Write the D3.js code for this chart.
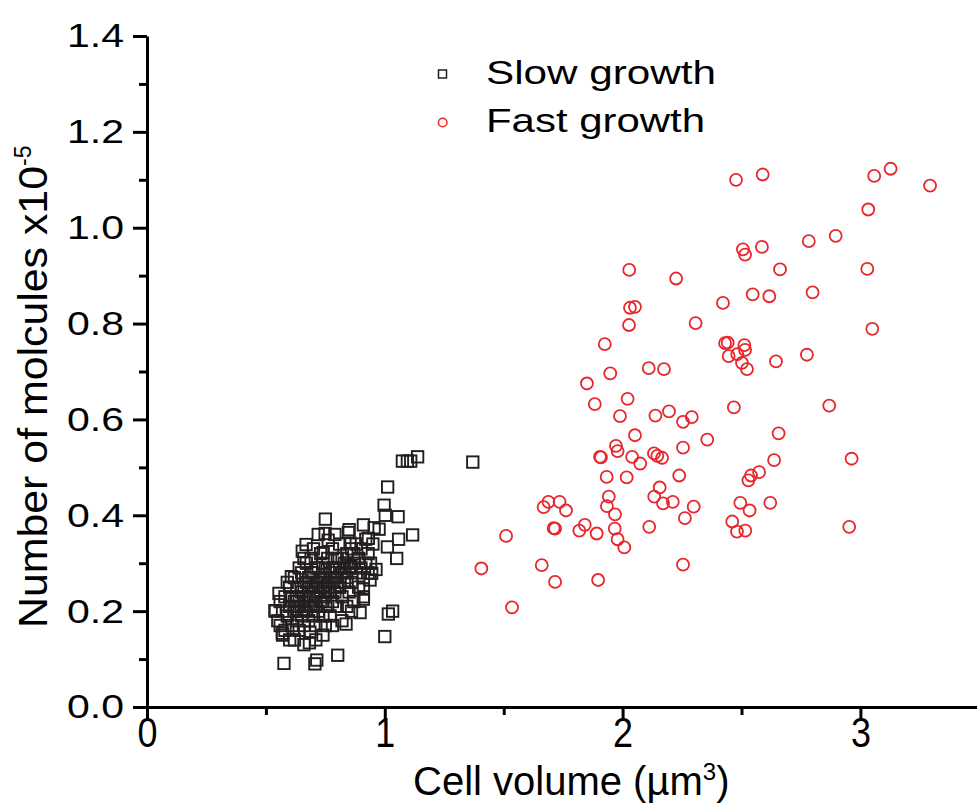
<!DOCTYPE html>
<html>
<head>
<meta charset="utf-8">
<script src="https://cdn.jsdelivr.net/npm/d3@7"></script>
<style>
  body { margin: 0; background: #fff; }
  text { font-family: "Liberation Sans", Arial, sans-serif; fill: #000; }
</style>
</head>
<body>
<div id="chart"></div>
<script>
// slow growth: [cell volume, molecules x1e-5]
const slowGrowth = [
  [1.074,0.513],[1.095,0.513],[1.109,0.513],[1.138,0.522],[1.370,0.511],
  [1.012,0.459],[0.997,0.421],[1.002,0.400],[1.056,0.397],[1.117,0.359],
  [1.058,0.350],[1.011,0.334],[1.050,0.310],[0.976,0.371],[0.963,0.287],
  [0.945,0.279],[1.015,0.194],[1.033,0.200],[1.000,0.147],[0.750,0.392],
  [0.749,0.362],[0.762,0.348],[0.847,0.364],[0.910,0.380],[0.955,0.374],
  [0.669,0.339],[0.653,0.325],[0.741,0.322],[0.854,0.342],[0.931,0.352],
  [0.607,0.272],[0.555,0.237],[0.538,0.201],[0.569,0.154],[0.615,0.161],
  [0.685,0.156],[0.683,0.134],[0.576,0.091],[0.714,0.098],[0.706,0.090],
  [0.802,0.108],[0.896,0.197],[0.837,0.173],[0.857,0.293],[0.910,0.246],
  [0.938,0.265],[0.910,0.225],
  [0.54,0.20],[0.55,0.18],[0.56,0.22],[0.56,0.17],[0.57,0.20],[0.58,0.23],
  [0.58,0.16],[0.59,0.19],[0.60,0.21],[0.60,0.25],[0.61,0.17],[0.61,0.23],
  [0.62,0.20],[0.62,0.27],[0.63,0.18],[0.63,0.22],[0.63,0.25],[0.64,0.16],
  [0.64,0.21],[0.65,0.19],[0.65,0.24],[0.65,0.28],[0.66,0.22],[0.66,0.17],
  [0.67,0.26],[0.67,0.20],[0.67,0.30],[0.68,0.23],[0.68,0.18],[0.68,0.27],
  [0.69,0.21],[0.69,0.25],[0.69,0.31],[0.70,0.19],[0.70,0.23],[0.70,0.28],
  [0.71,0.26],[0.71,0.21],[0.71,0.17],[0.72,0.24],[0.72,0.29],[0.72,0.20],
  [0.73,0.27],[0.73,0.22],[0.73,0.32],[0.74,0.25],[0.74,0.19],[0.74,0.30],
  [0.75,0.23],[0.75,0.27],[0.75,0.17],[0.76,0.21],[0.76,0.26],[0.76,0.31],
  [0.77,0.24],[0.77,0.28],[0.77,0.19],[0.78,0.22],[0.78,0.26],[0.78,0.33],
  [0.79,0.29],[0.79,0.24],[0.80,0.27],[0.80,0.21],[0.80,0.31],[0.81,0.25],
  [0.81,0.34],[0.82,0.28],[0.82,0.23],[0.83,0.30],[0.83,0.26],[0.84,0.32],
  [0.84,0.21],[0.84,0.27],[0.85,0.29],[0.85,0.24],[0.86,0.33],[0.86,0.26],
  [0.87,0.30],[0.87,0.22],[0.88,0.28],[0.88,0.34],[0.89,0.25],[0.89,0.31],
  [0.90,0.29],[0.90,0.33],[0.91,0.27],[0.91,0.23],[0.92,0.30],[0.92,0.35],
  [0.93,0.28],[0.93,0.32],[0.94,0.30],[0.95,0.34],[0.71,0.14],[0.74,0.15],
  [0.78,0.17],[0.82,0.18],[0.86,0.20],[0.62,0.14],[0.66,0.13],[0.59,0.26],
  [0.64,0.29],[0.70,0.33],[0.72,0.36],[0.79,0.36],[0.85,0.37],[0.66,0.31],
  [0.57,0.15],[0.60,0.14],
  [0.64,0.23],[0.66,0.25],[0.67,0.23],[0.68,0.21],[0.69,0.28],[0.70,0.25],
  [0.71,0.23],[0.71,0.29],[0.72,0.26],[0.73,0.24],[0.74,0.27],[0.74,0.22],
  [0.75,0.25],[0.75,0.29],[0.76,0.24],[0.77,0.26],[0.78,0.29],[0.79,0.27],
  [0.80,0.25],[0.81,0.29],[0.82,0.31],[0.83,0.28],[0.84,0.30],[0.86,0.29],
  [0.87,0.32],[0.62,0.22],[0.63,0.20],[0.66,0.20],[0.68,0.25],[0.70,0.21]
];

// fast growth
const fastGrowth = [
  [2.477,1.100],[2.589,1.111],[3.058,1.108],[3.127,1.123],[3.293,1.088],
  [3.033,1.038],[2.783,0.972],[2.896,0.983],[2.506,0.955],[2.515,0.944],
  [2.586,0.960],[2.028,0.912],[2.225,0.894],[2.662,0.913],[3.029,0.914],
  [2.799,0.865],[2.547,0.861],[2.617,0.857],[2.422,0.843],[2.031,0.833],
  [2.052,0.835],[2.027,0.797],[2.307,0.801],[3.050,0.789],[1.925,0.757],
  [2.431,0.759],[2.442,0.760],[2.512,0.755],[2.515,0.745],[2.482,0.736],
  [2.446,0.732],[2.502,0.718],[2.523,0.705],[2.645,0.721],[2.775,0.735],
  [2.110,0.707],[2.174,0.705],[1.948,0.696],[1.850,0.675],[1.883,0.632],
  [2.021,0.643],[1.989,0.607],[2.138,0.608],[2.195,0.617],[2.254,0.595],
  [2.291,0.605],[2.468,0.625],[2.869,0.629],[2.052,0.567],[2.356,0.558],
  [2.656,0.571],[1.972,0.545],[1.979,0.534],[1.905,0.522],[1.909,0.521],
  [2.040,0.522],[2.074,0.508],[2.132,0.529],[2.146,0.524],[2.166,0.520],
  [2.254,0.541],[2.637,0.515],[2.963,0.518],[1.933,0.480],[2.017,0.479],
  [2.238,0.483],[2.156,0.458],[2.574,0.490],[2.540,0.483],[2.529,0.473],
  [1.942,0.439],[1.934,0.419],[1.968,0.402],[2.133,0.439],[2.170,0.425],
  [2.211,0.428],[2.299,0.418],[2.262,0.394],[2.112,0.376],[2.495,0.426],
  [2.534,0.410],[2.621,0.426],[2.461,0.387],[2.481,0.366],[2.516,0.368],
  [2.953,0.376],[1.688,0.428],[1.735,0.428],[1.668,0.417],[1.762,0.410],
  [1.710,0.373],[1.716,0.372],[1.841,0.380],[1.818,0.368],[1.891,0.362],
  [1.967,0.372],[1.979,0.350],[2.007,0.333],[1.510,0.357],[1.660,0.296],
  [1.716,0.261],[1.897,0.265],[2.254,0.297],[1.406,0.289],[1.535,0.208]
];

const xTicks = [0, 1, 2, 3];
const yTicks = [0, 0.2, 0.4, 0.6, 0.8, 1.0, 1.2, 1.4];
const legendLabels = ["Slow growth", "Fast growth"];

const width = 977, height = 805;

const svg = d3.select("#chart")
  .append("svg")
  .attr("width", width)
  .attr("height", height);

const x = d3.scaleLinear().domain([0, 3.5]).range([147, 979.3]);
const y = d3.scaleLinear().domain([0, 1.4]).range([707, 36]);

/* minor ticks first, then major axes on top */
svg.append("g")
  .attr("transform", "translate(0,707)")
  .call(d3.axisBottom(x).tickValues([0.5, 1.5, 2.5]).tickSize(8).tickFormat(""))
  .call(g => g.select(".domain").remove());

svg.append("g")
  .attr("transform", "translate(147,0)")
  .call(d3.axisLeft(y).tickValues(d3.range(0.1, 1.4, 0.2)).tickSize(8).tickFormat(""))
  .call(g => g.select(".domain").remove());

const xAxis = svg.append("g")
  .attr("transform", "translate(0,707)")
  .call(d3.axisBottom(x).tickValues(xTicks).tickSize(13).tickSizeOuter(0).tickPadding(-3).tickFormat(d3.format("d")));

const yAxis = svg.append("g")
  .attr("transform", "translate(147,0)")
  .call(d3.axisLeft(y).tickValues(yTicks).tickSize(14).tickSizeOuter(0).tickPadding(9).tickFormat(d3.format(".1f")));

svg.selectAll(".domain, .tick line")
  .attr("stroke", "#000")
  .attr("stroke-width", 3);

xAxis.selectAll("text")
  .attr("font-size", 42)
  .attr("font-family", "Liberation Sans, Arial, sans-serif")
  .attr("fill", "#000")
  .attr("textLength", 20)
  .attr("lengthAdjust", "spacingAndGlyphs");

yAxis.selectAll("text")
  .attr("font-size", 34)
  .attr("font-family", "Liberation Sans, Arial, sans-serif")
  .attr("fill", "#000")
  .attr("textLength", 57)
  .attr("lengthAdjust", "spacingAndGlyphs");

/* points */
svg.append("g")
  .selectAll("rect")
  .data(slowGrowth)
  .join("rect")
  .attr("x", d => x(d[0]) - 5.7)
  .attr("y", d => y(d[1]) - 5.7)
  .attr("width", 11.4)
  .attr("height", 11.4)
  .attr("fill", "none")
  .attr("stroke", "#231f20")
  .attr("stroke-width", 1.9);

svg.append("g")
  .selectAll("circle")
  .data(fastGrowth)
  .join("circle")
  .attr("cx", d => x(d[0]))
  .attr("cy", d => y(d[1]))
  .attr("r", 6)
  .attr("fill", "none")
  .attr("stroke", "#e8262b")
  .attr("stroke-width", 1.8);

/* axis titles */
const xTitle = svg.append("text")
  .attr("x", 413)
  .attr("y", 795)
  .attr("font-size", 40);
xTitle.append("tspan").text("Cell volume (\u00b5m");
xTitle.append("tspan").attr("font-size", 24).attr("dy", -15).text("3");
xTitle.append("tspan").attr("dy", 15).text(")");

const yTitle = svg.append("text")
  .attr("transform", "translate(47,628) rotate(-90)")
  .attr("font-size", 40);
yTitle.append("tspan")
  .attr("textLength", 462)
  .attr("lengthAdjust", "spacingAndGlyphs")
  .text("Number of molcules x10");
yTitle.append("tspan").attr("font-size", 23).attr("dy", -16).text("-5");

/* legend */
const legend = svg.append("g");
legend.append("rect")
  .attr("x", 438.5).attr("y", 70)
  .attr("width", 8).attr("height", 8)
  .attr("fill", "none").attr("stroke", "#231f20").attr("stroke-width", 1.5);
legend.append("circle")
  .attr("cx", 442.7).attr("cy", 122.5).attr("r", 4.3)
  .attr("fill", "none").attr("stroke", "#e8262b").attr("stroke-width", 1.5);

legend.selectAll("text")
  .data(legendLabels)
  .join("text")
  .attr("x", 486)
  .attr("y", (d, i) => 84 + i * 48)
  .attr("font-size", 34)
  .attr("textLength", (d, i) => i === 0 ? 230 : 219)
  .attr("lengthAdjust", "spacingAndGlyphs")
  .text(d => d);
</script>
</body>
</html>
